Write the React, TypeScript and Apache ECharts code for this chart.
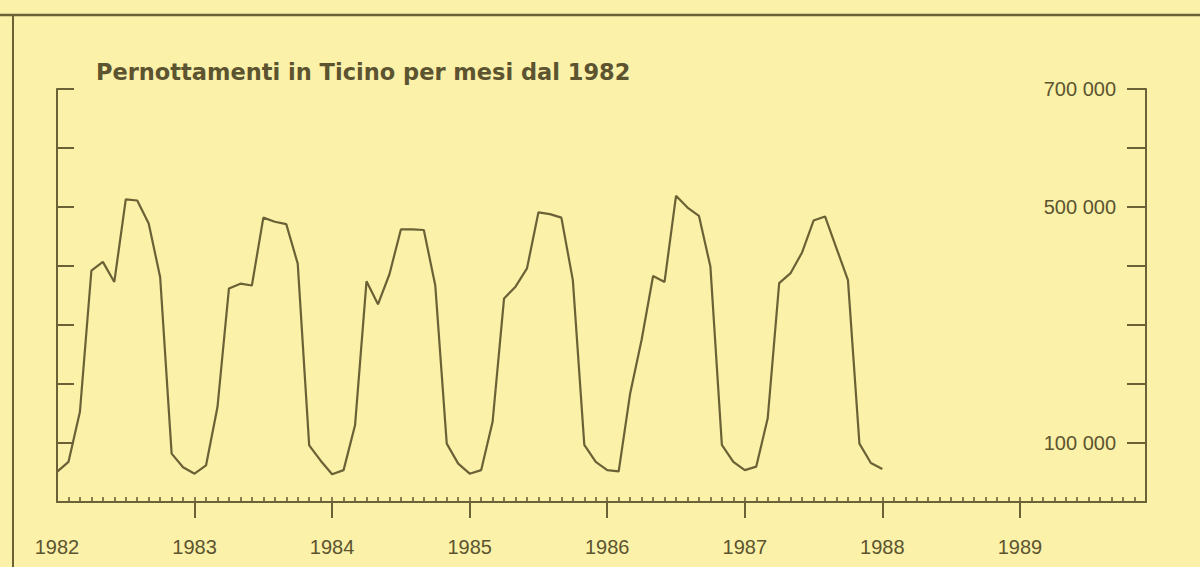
import React, { useEffect, useRef } from "react";
import * as echarts from "echarts";

// Monthly overnight stays (pernottamenti), January of each year first
const y1982 = [51000, 68000, 153000, 392000, 407000, 373000, 513000, 511000, 472000, 381000, 82000, 59000];
const y1983 = [48000, 62000, 161000, 362000, 370000, 367000, 482000, 475000, 471000, 404000, 96000, 70000];
const y1984 = [47000, 54000, 130000, 374000, 335000, 386000, 462000, 462000, 461000, 367000, 99000, 65000];
const y1985 = [48000, 54000, 136000, 345000, 365000, 396000, 491000, 488000, 482000, 376000, 97000, 68000];
const y1986 = [54000, 52000, 184000, 275000, 383000, 373000, 519000, 499000, 485000, 399000, 97000, 68000];
const y1987 = [54000, 60000, 142000, 371000, 388000, 423000, 477000, 484000, 430000, 376000, 99000, 66000];
const y1988 = [56000];

const yearLabels = ["1982", "1983", "1984", "1985", "1986", "1987", "1988", "1989"];
const yLabelValues = [100000, 500000, 700000];
const yLabelTexts = ["100 000", "500 000", "700 000"];
const titleText = "Pernottamenti in Ticino per mesi dal 1982";

const INK = "#6B6136";
const TEXT = "#5C5430";
const BG = "#FBF1A8";

export default function App() {
  const ref = useRef<HTMLDivElement>(null);
  useEffect(() => {
    if (!ref.current) return;
    const chart = echarts.init(ref.current, null, { renderer: "svg" });
    const all = [...y1982, ...y1983, ...y1984, ...y1985, ...y1986, ...y1987, ...y1988];
    const data = all.map((v, i) => [i, v]);
    const yearValues = yearLabels.map((_, i) => i * 12);
    const option: any = {
      animation: false,
      backgroundColor: BG,
      title: {
        text: titleText,
        left: 91,
        top: 55,
        textStyle: { fontFamily: "DejaVu Sans", fontWeight: "bold", fontSize: 22.5, color: TEXT },
      },
      grid: { left: 57, right: 54, top: 89, bottom: 65, containLabel: false },
      xAxis: [
        {
          type: "value",
          min: 0,
          max: 95,
          interval: 12,
          position: "bottom",
          axisLine: { show: true, onZero: false, lineStyle: { color: INK, width: 2 } },
          axisTick: { show: true, inside: false, length: 16, customValues: yearValues.slice(1), lineStyle: { color: INK, width: 2 } },
          axisLabel: {
            show: true,
            customValues: yearValues,
            formatter: (v: number) => yearLabels[Math.round(v / 12)] ?? "",
            margin: 35,
            fontSize: 20,
            fontFamily: "Liberation Sans",
            color: TEXT,
          },
          splitLine: { show: false },
        },
        {
          type: "value",
          min: 0,
          max: 95,
          interval: 1,
          position: "bottom",
          axisLine: { show: false, onZero: false },
          axisTick: { show: true, inside: true, length: 5, lineStyle: { color: INK, width: 1.6 } },
          axisLabel: { show: false },
          splitLine: { show: false },
        },
      ],
      yAxis: [
        {
          type: "value",
          min: 0,
          max: 700000,
          interval: 100000,
          position: "left",
          axisLine: { show: true, onZero: false, lineStyle: { color: INK, width: 2 } },
          axisTick: { show: true, inside: true, length: 17, lineStyle: { color: INK, width: 2 } },
          axisLabel: { show: false },
          splitLine: { show: false },
        },
        {
          type: "value",
          min: 0,
          max: 700000,
          interval: 100000,
          position: "right",
          axisLine: { show: true, onZero: false, lineStyle: { color: INK, width: 2 } },
          axisTick: { show: true, inside: true, length: 19, lineStyle: { color: INK, width: 2 } },
          axisLabel: {
            show: true,
            inside: true,
            margin: 30,
            customValues: yLabelValues,
            formatter: (v: number) => yLabelTexts[yLabelValues.indexOf(v)] ?? "",
            fontSize: 20,
            fontFamily: "Liberation Sans",
            color: TEXT,
          },
          splitLine: { show: false },
        },
      ],
      graphic: [
        { type: "line", shape: { x1: 0, y1: 15, x2: 1200, y2: 15 }, style: { stroke: INK, lineWidth: 2.5 } },
        { type: "line", shape: { x1: 13, y1: 15, x2: 13, y2: 567 }, style: { stroke: INK, lineWidth: 2 } },
      ],
      series: [
        {
          type: "line",
          xAxisIndex: 0,
          yAxisIndex: 0,
          data,
          showSymbol: false,
          symbol: "none",
          lineStyle: { color: INK, width: 2.2 },
        },
      ],
    };
    chart.setOption(option);
    return () => chart.dispose();
  }, []);
  return <div ref={ref} style={{ position: "fixed", left: 0, top: 0, width: 1200, height: 567 }} />;
}
